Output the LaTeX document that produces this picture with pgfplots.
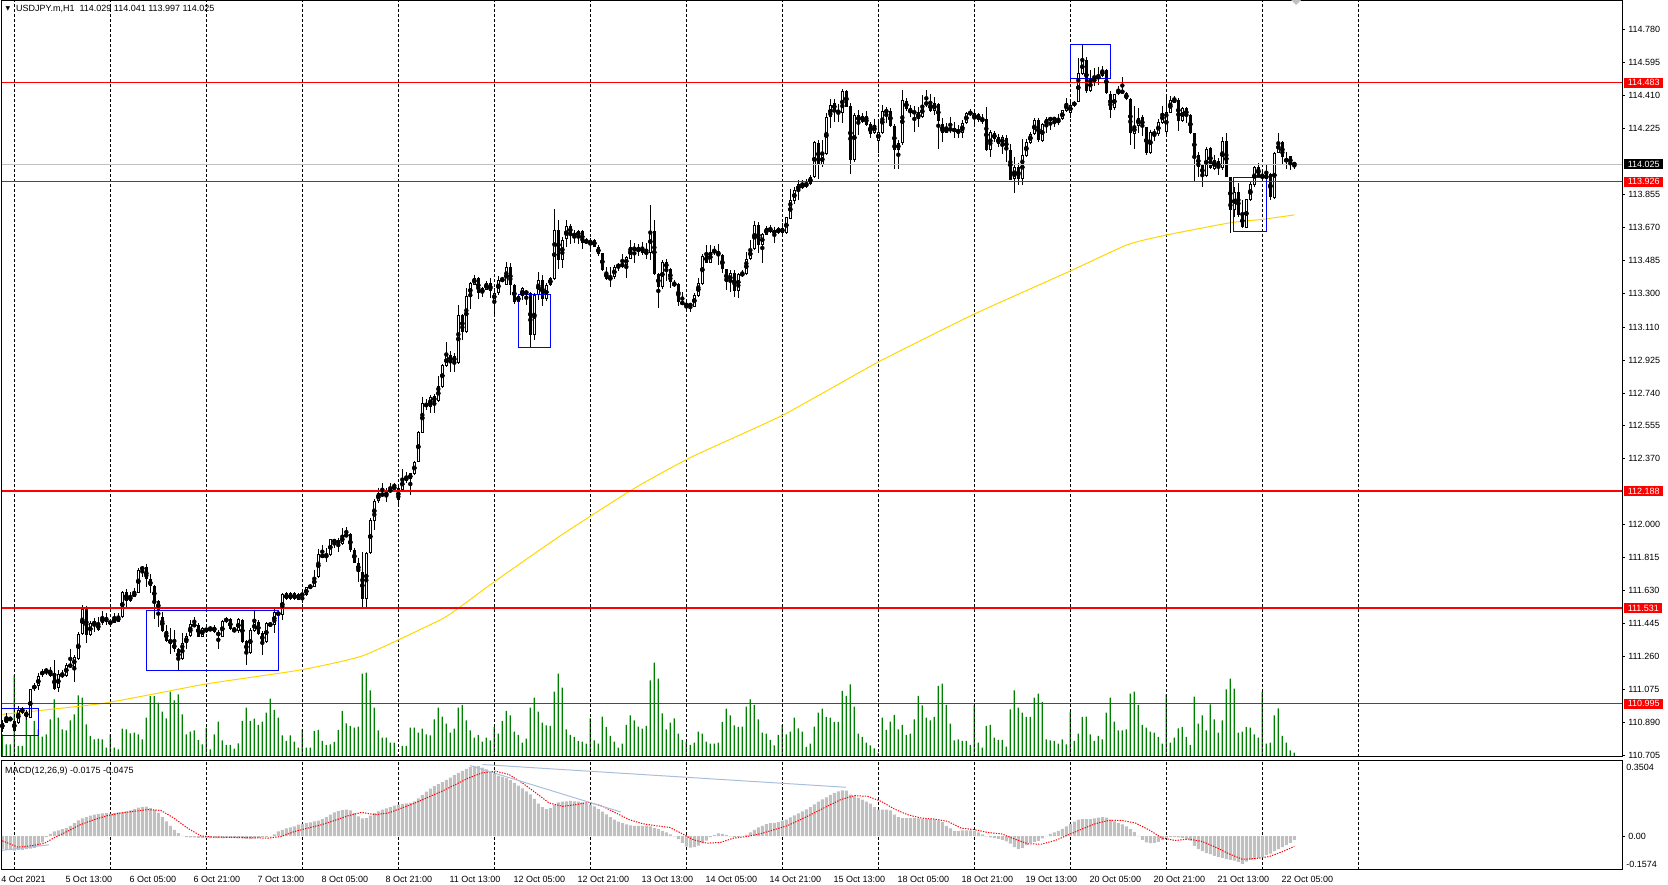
\documentclass[border=0pt]{standalone}
\usepackage{fontspec}
\setmainfont{Liberation Sans}
\newfontfamily\dejavu{DejaVu Sans}
\usepackage{pgfplots}
\usepackage{pgfplotstable}
\pgfplotsset{compat=1.18}
\definecolor{mtgreen}{RGB}{0,128,0}
\definecolor{mtsilver}{RGB}{192,192,192}
\definecolor{mtgold}{RGB}{255,215,0}
\definecolor{mtblue}{RGB}{0,0,255}
\definecolor{mtsteel}{RGB}{170,190,220}
\newcommand\mt{\fontsize{9}{10.8}\selectfont}

\pgfplotstableread{
x o h l c v m
0 110.850 110.905 110.837 110.888 680 -0.0605
1 110.888 110.940 110.884 110.912 380 -0.0637
2 110.912 110.921 110.899 110.902 380 -0.0637
3 110.895 110.912 110.837 110.843 2450 -0.0668
4 110.884 110.983 110.880 110.962 330 -0.0637
5 110.968 110.977 110.940 110.944 330 -0.0637
6 110.949 110.962 110.906 110.921 1280 -0.0605
7 110.917 111.080 110.912 111.075 630 -0.0574
8 111.075 111.108 111.067 111.099 1080 -0.0543
9 111.093 111.168 111.071 111.151 830 -0.0449
10 111.155 111.189 111.146 111.178 610 -0.0293
11 111.178 111.193 111.155 111.183 680 -0.0044
12 111.183 111.202 111.146 111.151 1130 0.0112
13 111.155 111.243 111.071 111.080 1730 0.0222
14 111.080 111.183 111.062 111.159 1180 0.0268
15 111.159 111.183 111.137 111.151 830 0.0331
16 111.151 111.221 111.146 111.215 800 0.0393
17 111.215 111.300 111.193 111.202 1100 0.0487
18 111.202 111.268 111.118 111.258 1280 0.0612
19 111.245 111.399 111.240 111.386 1850 0.0736
20 111.386 111.552 111.380 111.526 1780 0.0830
21 111.526 111.543 111.337 111.380 980 0.0892
22 111.380 111.459 111.374 111.449 630 0.0955
23 111.449 111.479 111.399 111.446 530 0.1002
24 111.449 111.479 111.404 111.408 550 0.1033
25 111.449 111.515 111.436 111.479 530 0.1064
26 111.479 111.507 111.436 111.453 280 0.1080
27 111.455 111.464 111.436 111.446 680 0.1048
28 111.449 111.505 111.446 111.477 280 0.1080
29 111.483 111.505 111.451 111.455 230 0.1111
30 111.479 111.627 111.474 111.623 850 0.1126
31 111.623 111.642 111.526 111.573 830 0.1158
32 111.573 111.623 111.567 111.599 710 0.1204
33 111.597 111.642 111.592 111.620 730 0.1267
34 111.618 111.755 111.614 111.745 680 0.1329
35 111.760 111.768 111.708 111.749 530 0.1360
36 111.760 111.779 111.651 111.693 1180 0.1376
37 111.693 111.726 111.618 111.655 1830 0.1314
38 111.655 111.661 111.474 111.573 1830 0.1236
39 111.573 111.577 111.427 111.517 1630 0.1080
40 111.483 111.511 111.399 111.404 1360 0.0892
41 111.404 111.436 111.343 111.348 1160 0.0690
42 111.356 111.417 111.273 111.333 1960 0.0487
43 111.333 111.408 111.286 111.300 1700 0.0300
44 111.300 111.310 111.187 111.240 1880 0.0144
45 111.243 111.389 111.240 111.337 1280 0.0019
46 111.333 111.393 111.300 111.374 680 -0.0044
47 111.374 111.464 111.367 111.440 760 -0.0059
48 111.430 111.483 111.427 111.440 800 -0.0059
49 111.440 111.445 111.367 111.371 510 -0.0075
50 111.371 111.427 111.367 111.417 380 -0.0075
51 111.417 111.420 111.393 111.404 880 -0.0075
52 111.417 111.430 111.404 111.408 230 -0.0090
53 111.427 111.436 111.393 111.399 680 -0.0090
54 111.399 111.408 111.300 111.374 1060 -0.0090
55 111.371 111.464 111.367 111.459 500 -0.0090
56 111.455 111.483 111.446 111.474 360 -0.0075
57 111.468 111.474 111.408 111.412 360 -0.0075
58 111.412 111.427 111.399 111.402 250 -0.0090
59 111.402 111.474 111.393 111.468 410 -0.0106
60 111.468 111.474 111.337 111.343 1080 -0.0106
61 111.346 111.352 111.211 111.281 1480 -0.0122
62 111.277 111.417 111.273 111.408 1080 -0.0137
63 111.404 111.520 111.399 111.455 1150 -0.0106
64 111.455 111.464 111.380 111.386 960 -0.0075
65 111.393 111.404 111.268 111.337 1060 -0.0044
66 111.343 111.455 111.337 111.446 1330 -0.0044
67 111.446 111.455 111.427 111.430 1750 -0.0012
68 111.436 111.530 111.389 111.511 1410 0.0081
69 111.511 111.520 111.483 111.492 1180 0.0222
70 111.492 111.618 111.468 111.614 650 0.0300
71 111.614 111.620 111.577 111.580 480 0.0362
72 111.580 111.620 111.577 111.614 650 0.0409
73 111.614 111.623 111.577 111.580 460 0.0456
74 111.580 111.618 111.578 111.610 280 0.0534
75 111.610 111.614 111.558 111.605 830 0.0580
76 111.605 111.652 111.599 111.648 280 0.0612
77 111.648 111.667 111.642 111.655 280 0.0643
78 111.652 111.745 111.648 111.704 780 0.0690
79 111.704 111.861 111.700 111.835 810 0.0721
80 111.835 111.886 111.811 111.816 480 0.0799
81 111.816 111.867 111.792 111.829 360 0.0892
82 111.829 111.923 111.825 111.918 380 0.1002
83 111.914 111.923 111.867 111.904 450 0.1111
84 111.914 111.923 111.848 111.891 810 0.1173
85 111.891 111.979 111.886 111.946 1380 0.1220
86 111.946 111.985 111.932 111.936 1010 0.1236
87 111.946 111.951 111.848 111.858 930 0.1204
88 111.858 111.867 111.783 111.786 880 0.1080
89 111.786 111.811 111.680 111.736 910 0.0924
90 111.736 111.848 111.530 111.580 2500 0.0830
91 111.580 111.848 111.530 111.843 2530 0.0846
92 111.839 112.036 111.835 112.026 2000 0.0955
93 112.022 112.142 111.970 112.135 1480 0.1080
94 112.135 112.204 112.120 112.176 800 0.1158
95 112.176 112.236 112.157 112.163 580 0.1236
96 112.161 112.204 112.125 112.185 580 0.1298
97 112.182 112.232 112.176 112.204 430 0.1360
98 112.204 112.236 112.200 112.210 430 0.1423
99 112.204 112.213 112.101 112.142 80 0.1470
100 112.198 112.311 112.195 112.260 330 0.1501
101 112.260 112.298 112.232 112.255 330 0.1532
102 112.255 112.292 112.167 112.288 880 0.1548
103 112.285 112.359 112.279 112.354 880 0.1626
104 112.354 112.529 112.350 112.522 730 0.1766
105 112.517 112.719 112.513 112.682 850 0.1922
106 112.678 112.704 112.644 112.666 680 0.2078
107 112.663 112.728 112.629 112.719 650 0.2218
108 112.723 112.734 112.625 112.691 1130 0.2328
109 112.697 112.835 112.691 112.779 1480 0.2421
110 112.775 112.906 112.770 112.897 1210 0.2515
111 112.891 113.028 112.887 112.953 1000 0.2624
112 112.953 112.977 112.859 112.916 730 0.2733
113 112.916 112.962 112.859 112.947 850 0.2842
114 112.910 113.234 112.906 113.178 1480 0.2952
115 113.178 113.183 113.037 113.084 1560 0.3045
116 113.084 113.328 113.080 113.285 1100 0.3139
117 113.277 113.365 113.215 113.356 800 0.3217
118 113.350 113.402 113.346 113.389 580 0.3265
119 113.389 113.393 113.266 113.303 660 0.3265
120 113.303 113.337 113.281 113.328 460 0.3201
121 113.322 113.371 113.318 113.359 580 0.3108
122 113.356 113.384 113.271 113.314 500 0.2998
123 113.258 113.328 113.178 113.303 900 0.2905
124 113.300 113.397 113.290 113.378 700 0.2827
125 113.371 113.393 113.365 113.378 1080 0.2765
126 113.346 113.477 113.346 113.446 1380 0.2702
127 113.446 113.472 113.290 113.346 1250 0.2609
128 113.346 113.356 113.243 113.253 760 0.2484
129 113.285 113.290 113.248 113.253 660 0.2359
130 113.285 113.337 113.262 113.328 430 0.2234
131 113.309 113.318 113.234 113.300 550 0.2094
132 113.300 113.309 112.991 113.065 1480 0.1953
133 113.065 113.300 113.037 113.290 1780 0.1735
134 113.290 113.421 113.266 113.374 1360 0.1516
135 113.374 113.400 113.230 113.268 1030 0.1360
136 113.268 113.356 113.258 113.346 950 0.1267
137 113.346 113.393 113.341 113.387 930 0.1314
138 113.378 113.777 113.374 113.655 1960 0.1470
139 113.655 113.711 113.440 113.490 2500 0.1579
140 113.490 113.614 113.440 113.603 2080 0.1610
141 113.603 113.711 113.558 113.678 830 0.1626
142 113.681 113.689 113.577 113.631 660 0.1641
143 113.633 113.655 113.584 113.623 600 0.1626
144 113.623 113.659 113.580 113.650 480 0.1610
145 113.650 113.659 113.547 113.584 460 0.1579
146 113.586 113.608 113.577 113.595 400 0.1532
147 113.577 113.608 113.550 113.599 1160 0.1470
148 113.599 113.608 113.558 113.562 500 0.1392
149 113.562 113.571 113.509 113.520 400 0.1267
150 113.524 113.528 113.427 113.431 1210 0.1142
151 113.423 113.449 113.374 113.380 900 0.1017
152 113.380 113.446 113.337 113.389 630 0.0892
153 113.389 113.459 113.384 113.449 460 0.0768
154 113.449 113.472 113.427 113.459 280 0.0674
155 113.465 113.524 113.440 113.453 400 0.0612
156 113.459 113.509 113.389 113.502 960 0.0549
157 113.496 113.599 113.490 113.562 1250 0.0502
158 113.562 113.580 113.468 113.539 1100 0.0487
159 113.539 113.577 113.509 113.558 910 0.0487
160 113.562 113.590 113.515 113.528 850 0.0487
161 113.534 113.584 113.496 113.524 930 0.0487
162 113.528 113.796 113.487 113.652 2300 0.0456
163 113.652 113.711 113.404 113.408 2830 0.0393
164 113.408 113.412 113.215 113.333 2350 0.0331
165 113.333 113.487 113.328 113.477 1310 0.0253
166 113.477 113.490 113.371 113.440 830 0.0175
167 113.436 113.440 113.328 113.365 1030 0.0081
168 113.361 113.374 113.337 113.341 1160 -0.0012
169 113.350 113.356 113.228 113.253 700 -0.0137
170 113.253 113.309 113.234 113.238 510 -0.0309
171 113.240 113.253 113.202 113.232 450 -0.0480
172 113.243 113.247 113.197 113.225 360 -0.0527
173 113.225 113.300 113.221 113.290 430 -0.0512
174 113.287 113.384 113.281 113.356 760 -0.0434
175 113.353 113.524 113.346 113.509 700 -0.0324
176 113.515 113.571 113.468 113.472 460 -0.0200
177 113.472 113.571 113.468 113.534 400 -0.0044
178 113.534 113.565 113.515 113.537 400 0.0050
179 113.537 113.577 113.459 113.515 430 0.0128
180 113.515 113.524 113.416 113.434 1050 0.0112
181 113.434 113.434 113.318 113.361 1450 0.0066
182 113.361 113.431 113.309 113.412 1250 -0.0012
183 113.416 113.434 113.281 113.315 950 -0.0044
184 113.315 113.416 113.272 113.412 900 -0.0028
185 113.402 113.431 113.393 113.412 910 0.0019
186 113.408 113.534 113.402 113.496 1510 0.0066
187 113.492 113.599 113.487 113.552 1730 0.0175
188 113.549 113.708 113.547 113.683 1560 0.0300
189 113.683 113.702 113.528 113.571 1130 0.0409
190 113.571 113.637 113.472 113.631 730 0.0487
191 113.627 113.678 113.627 113.670 700 0.0565
192 113.670 113.683 113.637 113.646 510 0.0612
193 113.652 113.674 113.584 113.637 350 0.0627
194 113.637 113.674 113.633 113.665 660 0.0658
195 113.665 113.697 113.614 113.640 960 0.0721
196 113.640 113.730 113.633 113.727 680 0.0768
197 113.721 113.884 113.715 113.824 760 0.0877
198 113.820 113.899 113.801 113.880 1180 0.0970
199 113.874 113.936 113.824 113.914 860 0.1064
200 113.908 113.936 113.889 113.899 760 0.1158
201 113.902 113.940 113.889 113.917 300 0.1251
202 113.914 113.964 113.908 113.955 400 0.1360
203 113.955 114.157 113.951 114.152 910 0.1485
204 114.146 114.161 113.940 114.020 1330 0.1610
205 114.020 114.161 114.011 114.086 1450 0.1719
206 114.082 114.311 114.077 114.288 1200 0.1813
207 114.288 114.389 114.226 114.357 1180 0.1922
208 114.367 114.389 114.264 114.329 1050 0.2016
209 114.329 114.367 114.264 114.314 1050 0.2094
210 114.314 114.451 114.255 114.436 1980 0.2140
211 114.436 114.445 114.345 114.348 1830 0.2125
212 114.352 114.367 113.970 114.049 2180 0.1938
213 114.049 114.311 114.039 114.301 1510 0.1860
214 114.301 114.329 114.189 114.264 700 0.1782
215 114.264 114.314 114.255 114.299 600 0.1704
216 114.296 114.326 114.239 114.245 430 0.1610
217 114.251 114.264 114.170 114.195 350 0.1516
218 114.202 114.277 114.195 114.245 260 0.1360
219 114.157 114.277 114.090 114.208 130 0.1236
220 114.198 114.357 114.195 114.324 1180 0.1236
221 114.320 114.348 114.258 114.326 810 0.1236
222 114.326 114.339 114.232 114.239 1060 0.1204
223 114.239 114.251 114.002 114.105 1260 0.1002
224 114.105 114.161 113.996 114.146 830 0.0892
225 114.142 114.442 114.133 114.386 960 0.0846
226 114.382 114.395 114.326 114.333 660 0.0846
227 114.339 114.357 114.288 114.314 700 0.0846
228 114.314 114.352 114.208 114.320 1130 0.0846
229 114.320 114.348 114.236 114.279 1830 0.0830
230 114.288 114.414 114.283 114.357 1550 0.0799
231 114.357 114.445 114.348 114.376 1180 0.0799
232 114.371 114.423 114.320 114.326 1100 0.0799
233 114.326 114.401 114.301 114.367 1200 0.0783
234 114.363 114.371 114.114 114.270 2130 0.0736
235 114.255 114.283 114.152 114.202 2200 0.0658
236 114.202 114.255 114.198 114.226 1560 0.0487
237 114.232 114.292 114.202 114.213 1000 0.0362
238 114.213 114.264 114.170 114.221 500 0.0237
239 114.221 114.245 114.170 114.202 530 0.0237
240 114.202 114.273 114.170 114.258 480 0.0268
241 114.258 114.320 114.251 114.311 480 0.0268
242 114.307 114.333 114.296 114.316 360 0.0268
243 114.283 114.329 114.245 114.311 1560 0.0237
244 114.307 114.314 114.264 114.273 430 0.0175
245 114.281 114.307 114.251 114.266 280 0.0081
246 114.277 114.348 114.101 114.105 930 -0.0012
247 114.105 114.217 114.067 114.208 960 -0.0059
248 114.202 114.213 114.152 114.165 580 -0.0090
249 114.176 114.195 114.120 114.138 510 -0.0122
250 114.138 114.189 114.082 114.176 510 -0.0168
251 114.170 114.189 114.039 114.105 310 -0.0246
252 114.105 114.138 113.938 113.940 1430 -0.0340
253 113.940 114.067 113.865 114.011 2000 -0.0512
254 114.011 114.030 113.908 113.940 1480 -0.0605
255 113.940 114.170 113.908 114.077 1330 -0.0543
256 114.071 114.165 114.067 114.152 1200 -0.0418
257 114.146 114.208 114.142 114.195 1200 -0.0324
258 114.193 114.283 114.189 114.273 1780 -0.0262
259 114.273 114.283 114.152 114.161 1900 -0.0215
260 114.157 114.255 114.152 114.251 1650 -0.0106
261 114.249 114.288 114.198 114.277 530 0.0019
262 114.270 114.292 114.217 114.286 500 0.0112
263 114.286 114.288 114.236 114.273 480 0.0175
264 114.258 114.307 114.245 114.277 400 0.0253
265 114.277 114.333 114.273 114.329 530 0.0346
266 114.326 114.395 114.320 114.367 380 0.0456
267 114.314 114.386 114.288 114.358 1360 0.0580
268 114.352 114.382 114.348 114.376 480 0.0674
269 114.376 114.620 114.374 114.535 700 0.0768
270 114.532 114.695 114.526 114.614 1200 0.0799
271 114.614 114.629 114.427 114.438 1210 0.0799
272 114.438 114.554 114.432 114.502 680 0.0799
273 114.502 114.564 114.464 114.494 480 0.0830
274 114.502 114.573 114.470 114.526 630 0.0861
275 114.522 114.577 114.517 114.554 530 0.0892
276 114.554 114.558 114.419 114.423 1330 0.0861
277 114.423 114.438 114.283 114.333 1780 0.0768
278 114.339 114.423 114.333 114.419 1060 0.0690
279 114.419 114.464 114.414 114.442 800 0.0612
280 114.442 114.517 114.419 114.423 800 0.0549
281 114.423 114.432 114.386 114.389 830 0.0456
282 114.389 114.395 114.133 114.198 1900 0.0331
283 114.198 114.352 114.114 114.241 1960 0.0190
284 114.239 114.339 114.198 114.288 1560 0.0019
285 114.288 114.301 114.183 114.232 960 -0.0168
286 114.232 114.236 114.077 114.086 880 -0.0293
287 114.086 114.217 114.082 114.206 760 -0.0324
288 114.206 114.226 114.157 114.193 730 -0.0309
289 114.193 114.277 114.183 114.262 600 -0.0262
290 114.258 114.352 114.255 114.314 400 -0.0184
291 114.204 114.404 114.198 114.320 1880 -0.0090
292 114.314 114.408 114.311 114.386 430 -0.0044
293 114.389 114.408 114.371 114.376 580 -0.0044
294 114.386 114.395 114.213 114.270 860 -0.0059
295 114.270 114.345 114.264 114.339 900 -0.0090
296 114.339 114.348 114.258 114.296 600 -0.0137
297 114.301 114.307 114.195 114.198 360 -0.0200
298 114.198 114.202 113.932 114.071 1810 -0.0449
299 114.077 114.095 113.955 114.011 1000 -0.0605
300 114.020 114.030 113.899 113.959 1250 -0.0699
301 113.959 114.124 113.951 114.114 800 -0.0792
302 114.114 114.120 113.996 114.002 1580 -0.0839
303 114.002 114.077 113.996 114.049 1130 -0.0917
304 114.045 114.058 113.964 114.002 730 -0.0964
305 114.002 114.176 113.996 114.155 1100 -0.1011
306 114.155 114.202 113.951 113.955 2030 -0.1073
307 113.955 113.955 113.637 113.768 2350 -0.1104
308 113.768 113.899 113.730 113.871 2050 -0.1136
309 113.871 113.921 113.730 113.740 730 -0.1198
310 113.745 113.824 113.665 113.670 760 -0.1292
311 113.670 113.833 113.665 113.828 900 -0.1182
312 113.824 113.927 113.820 113.912 880 -0.1104
313 113.908 114.015 113.899 114.011 680 -0.1073
314 114.011 114.034 113.946 113.955 580 -0.1011
315 113.951 113.983 113.927 113.970 1960 -0.0964
316 113.970 114.020 113.936 113.940 400 -0.0886
317 113.970 113.974 113.824 113.839 430 -0.0808
318 113.839 114.095 113.833 114.090 1250 -0.0699
319 114.090 114.198 114.086 114.152 1460 -0.0605
320 114.152 114.155 114.030 114.064 630 -0.0512
321 114.039 114.095 114.002 114.058 430 -0.0418
322 114.071 114.071 113.992 114.026 200 -0.0309
323 114.029 114.041 113.997 114.025 130 -0.0175
}\bars

\begin{document}
\begin{tikzpicture}
\path[use as bounding box] (0pt,0pt) rectangle (1668pt,885pt);

% ---------- volumes (own scale, same box as price panel)
\begin{axis}[at={(2pt,128pt)}, anchor=south west, scale only axis,
  width=1620pt, height=756.5pt,
  xmin=-0.075, xmax=404.925, ymin=0, ymax=22695, hide axis]
\addplot[ybar, bar width=1.2pt, bar shift=0pt, fill=mtgreen, draw=none]
  table[x=x, y=v] {\bars};
\end{axis}

% ---------- price panel
\begin{axis}[at={(2pt,128pt)}, anchor=south west, scale only axis,
  width=1620pt, height=756.5pt,
  xmin=-0.075, xmax=404.925, ymin=110.6946, ymax=114.9446,
  axis line style={black, line width=1pt},
  xtick={3,27,...,339}, xticklabels={}, xmajorgrids=true,
  major grid style={black, line width=0.8pt, dash pattern=on 3pt off 2pt},
  xtick style={draw=none},
  ytick={110.705,110.890,111.075,111.260,111.445,111.630,111.815,112.000,112.370,112.555,112.740,112.925,113.110,113.300,113.485,113.670,113.855,114.225,114.410,114.595,114.780},
  yticklabels={110.705,110.890,111.075,111.260,111.445,111.630,111.815,112.000,112.370,112.555,112.740,112.925,113.110,113.300,113.485,113.670,113.855,114.225,114.410,114.595,114.780},
  ytick pos=right, yticklabel pos=right, tick align=outside, major tick length=3pt,
  ytick style={black, line width=0.8pt},
  yticklabel style={font=\mt, anchor=west, inner sep=0pt, xshift=3pt},
]
% moving average
\addplot[mtgold, line width=1pt, smooth, tension=0.3] coordinates {
(0,110.934) (25.2,110.996) (51,111.105) (74.4,111.183) (90.2,111.264) (109.4,111.464)
(114,111.530) (123,111.679) (139.4,111.936) (157.7,112.200) (172.3,112.380) (195.2,112.616)
(219.1,112.915) (243,113.183) (267,113.425) (281.3,113.573) (291,113.627) (307,113.696)
(315,113.715) (323,113.740)};
% wicks
\addplot[only marks, mark=none,
  error bars/.cd, y dir=both, y explicit, error mark=none,
  error bar style={black, line width=1pt}]
  table[x=x, y expr={(\thisrow{h}+\thisrow{l})/2}, y error expr={(\thisrow{h}-\thisrow{l})/2}] {\bars};
% bodies
\addplot[only marks, mark=none,
  error bars/.cd, y dir=both, y explicit, error mark=none,
  error bar style={black, line width=3pt}]
  table[x=x, y expr={(\thisrow{o}+\thisrow{c})/2}, y error expr={max(abs(\thisrow{c}-\thisrow{o})/2,0.003)}] {\bars};
% hollow interior of rising candles
\addplot[only marks, mark=none,
  error bars/.cd, y dir=both, y explicit, error mark=none,
  error bar style={white, line width=1.2pt}]
  table[x=x, y expr={(\thisrow{o}+\thisrow{c})/2}, y error expr={(\thisrow{c}>\thisrow{o})*max((\thisrow{c}-\thisrow{o})/2-0.0056,0)}] {\bars};
% horizontal levels
\addplot[mtsilver, line width=1pt] coordinates {(-1,114.025) (406,114.025)};
\addplot[red, line width=1.2pt] coordinates {(-1,114.483) (406,114.483)};
\addplot[red, line width=1.2pt] coordinates {(-1,113.926) (406,113.926)};
\addplot[red, line width=2pt] coordinates {(-1,112.188) (406,112.188)};
\addplot[red, line width=1.5pt] coordinates {(-1,111.531) (406,111.531)};
\addplot[red, line width=1.5pt] coordinates {(-1,110.995) (406,110.995)};
% rectangles
\addplot[mtblue, line width=1pt] coordinates {(-0.25,110.968) (9,110.968) (9,110.813) (-0.25,110.813) (-0.25,110.968)};
\addplot[mtblue, line width=1pt] coordinates {(36,111.520) (69,111.520) (69,111.178) (36,111.178) (36,111.520)};
\addplot[mtblue, line width=1pt] coordinates {(129,113.294) (137,113.294) (137,112.996) (129,112.996) (129,113.294)};
\addplot[mtblue, line width=1pt] coordinates {(267,114.695) (277,114.695) (277,114.507) (267,114.507) (267,114.695)};
\addplot[mtblue, line width=1pt] coordinates {(307.9,113.951) (316,113.951) (316,113.644) (307.9,113.644) (307.9,113.951)};
\coordinate (p1) at (axis cs:404.925,114.483);
\coordinate (p2) at (axis cs:404.925,114.025);
\coordinate (p3) at (axis cs:404.925,113.926);
\coordinate (p4) at (axis cs:404.925,112.188);
\coordinate (p5) at (axis cs:404.925,111.531);
\coordinate (p6) at (axis cs:404.925,110.995);
\end{axis}

% ---------- MACD panel
\begin{axis}[at={(2pt,15pt)}, anchor=south west, scale only axis,
  width=1620pt, height=109pt,
  xmin=-0.075, xmax=404.925, ymin=-0.1574, ymax=0.3504,
  axis line style={black, line width=1pt},
  xtick={0,16,...,320},
  xticklabels={4 Oct 2021,5 Oct 13:00,6 Oct 05:00,6 Oct 21:00,7 Oct 13:00,8 Oct 05:00,8 Oct 21:00,11 Oct 13:00,12 Oct 05:00,12 Oct 21:00,13 Oct 13:00,14 Oct 05:00,14 Oct 21:00,15 Oct 13:00,18 Oct 05:00,18 Oct 21:00,19 Oct 13:00,20 Oct 05:00,20 Oct 21:00,21 Oct 13:00,22 Oct 05:00},
  xticklabel style={font=\mt, anchor=north west, inner sep=0pt, xshift=-1pt, yshift=-3pt},
  xtick style={draw=none},
  extra x ticks={3,27,...,339}, extra x tick labels={},
  extra x tick style={grid=major, major grid style={black, line width=0.8pt, dash pattern=on 3pt off 2pt}},
  ytick={0}, yticklabels={0.00},
  ytick pos=right, yticklabel pos=right, tick align=outside, major tick length=3pt,
  ytick style={black, line width=0.8pt},
  yticklabel style={font=\mt, anchor=west, inner sep=0pt, xshift=3pt},
]
\addplot[ybar, bar width=3pt, bar shift=0pt, fill=mtsilver, draw=none]
  table[x=x, y=m] {\bars};
\addplot[red, line width=1pt, dash pattern=on 1.3pt off 1.3pt] coordinates {
(0,-0.0215) (3.9,-0.0512) (7.2,-0.0449) (10.6,-0.0324) (12.8,-0.0090) (16.2,0.0222)
(19.5,0.0534) (22.9,0.0768) (26.2,0.0955) (29.6,0.1080) (32.9,0.1158) (36.3,0.1236)
(39.6,0.1204) (42.9,0.0846) (46.3,0.0378) (49.6,0.0019) (53.0,-0.0044) (59.7,-0.0059)
(66.4,-0.0090) (69.7,-0.0012) (73.1,0.0222) (76.4,0.0378) (79.8,0.0534) (83.1,0.0736)
(86.5,0.0955) (89.8,0.1111) (93.2,0.1002) (96.5,0.1080) (99.9,0.1314) (103.2,0.1548)
(106.6,0.1829) (109.9,0.2094) (113.3,0.2406) (116.6,0.2718) (120.0,0.2952) (123.3,0.3030)
(126.7,0.2874) (130.0,0.2484) (133.4,0.2016) (136.7,0.1548) (140.1,0.1392) (143.4,0.1470)
(146.7,0.1579) (150.1,0.1392) (153.4,0.1080) (156.8,0.0768) (160.1,0.0580) (163.5,0.0487)
(166.8,0.0409) (170.0,0.0112) (172.8,-0.0168) (176.1,-0.0324) (179.5,-0.0293) (182.8,-0.0090)
(186.2,-0.0012) (189.5,0.0112) (192.9,0.0300) (196.2,0.0487) (199.5,0.0768) (202.9,0.1080)
(206.2,0.1392) (209.6,0.1704) (213.0,0.1891) (216.3,0.1860) (219.7,0.1626) (223.0,0.1267)
(226.3,0.1002) (229.7,0.0846) (233.0,0.0799) (236.4,0.0690) (239.7,0.0378) (243.1,0.0300)
(246.4,0.0175) (249.8,0.0112) (253.1,-0.0137) (256.5,-0.0356) (259.8,-0.0371) (263.2,-0.0200)
(266.5,0.0066) (269.9,0.0331) (273.2,0.0580) (276.6,0.0736) (279.9,0.0736) (283.3,0.0612)
(286.6,0.0300) (290.0,-0.0090) (293.3,-0.0200) (296.6,-0.0137) (300.0,-0.0246) (303.3,-0.0512)
(306.7,-0.0824) (310.0,-0.1073) (313.4,-0.1042) (316.7,-0.0949) (320.1,-0.0714) (323,-0.0475)};
\addplot[mtsteel, line width=1pt] coordinates {(116.9,0.329) (154.6,0.113)};
\addplot[mtsteel, line width=1pt] coordinates {(120,0.334) (210.9,0.228)};
\addplot[mtsteel, line width=1pt] coordinates {(-0.6,-0.067) (11.7,-0.040)};
\coordinate (m1) at (axis cs:404.925,0.3504);
\coordinate (m2) at (axis cs:404.925,-0.1574);
\end{axis}

% ---------- price tags on the right scale
\begin{scope}[every node/.style={font=\mt, anchor=west, inner xsep=3.5pt, inner ysep=0pt, minimum height=10pt, text=white}]
\node[fill=red] at ([xshift=2pt]p1) {114.483};
\node[fill=black] at ([xshift=2pt]p2) {114.025};
\node[fill=red] at ([xshift=2pt]p3) {113.926};
\node[fill=red] at ([xshift=2pt]p4) {112.188};
\node[fill=red] at ([xshift=2pt]p5) {111.531};
\node[fill=red] at ([xshift=2pt]p6) {110.995};
\end{scope}
\node[font=\mt, anchor=north west, inner sep=0pt] at ([xshift=4pt,yshift=-3pt]m1) {0.3504};
\node[font=\mt, anchor=south west, inner sep=0pt] at ([xshift=4pt,yshift=2pt]m2) {-0.1574};

% ---------- captions
\node[font={\dejavu\fontsize{6}{6}\selectfont}, inner sep=0pt] at (8pt,876pt) {▼};
\node[font=\mt, anchor=west, inner sep=0pt] at (16pt,876pt) {USDJPY.m,H1\ \ 114.029 114.041 113.997 114.025};
\node[font=\mt, anchor=west, inner sep=0pt] at (5pt,114pt) {MACD(12,26,9) -0.0175 -0.0475};
\fill[mtsilver] (1291pt,885pt) -- (1301pt,885pt) -- (1296pt,880pt) -- cycle;
\end{tikzpicture}
\end{document}
